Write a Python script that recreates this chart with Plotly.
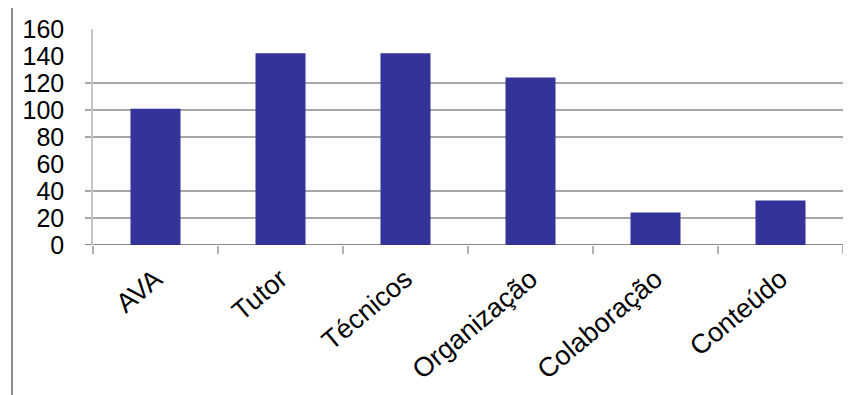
import plotly.graph_objects as go

categories = ["AVA", "Tutor", "Técnicos", "Organização", "Colaboração", "Conteúdo"]
values = [101, 142, 142, 124, 24, 33]
y_ticks = [0, 20, 40, 60, 80, 100, 120, 140, 160]
grid_values = [0, 20, 40, 80, 100, 120]

bar_color = "#333399"
font_family = "Liberation Sans, Arial, sans-serif"

fig = go.Figure(
    go.Bar(
        x=categories,
        y=values,
        marker=dict(color=bar_color, line=dict(width=0)),
    )
)

shapes = []
for g in grid_values:
    shapes.append(dict(
        type="line", xref="paper", yref="y",
        x0=-8 / 750, x1=1, y0=g, y1=g,
        line=dict(color="#888888" if g == 0 else "#8a8a8a", width=2 if g == 0 else 1.3),
        layer="below",
    ))
# outer frame lines
shapes.append(dict(type="line", xref="paper", yref="paper",
                   x0=-81 / 750, x1=-81 / 750, y0=238 / 216, y1=-160 / 216,
                   line=dict(color="#8c8c8c", width=2)))
shapes.append(dict(type="line", xref="paper", yref="paper",
                   x0=-81 / 750, x1=20 / 750 + 1, y0=238 / 216, y1=238 / 216,
                   line=dict(color="#d0d0d0", width=1.5)))

fig.update_layout(
    width=843, height=387,
    margin=dict(l=85, r=8, t=21, b=150),
    paper_bgcolor="white", plot_bgcolor="white",
    bargap=0.6,
    showlegend=False,
    shapes=shapes,
    font=dict(family=font_family, size=24, color="black"),
    xaxis=dict(
        automargin=False,
        showgrid=False,
        showline=False,
        ticks="outside", tickson="boundaries", ticklen=8,
        tickcolor="#b0b0b0", tickwidth=1.5,
        tickangle=-40,
        ticklabelstandoff=12,
        tickfont=dict(size=27),
    ),
    yaxis=dict(
        automargin=False,
        range=[0, 160],
        tickvals=y_ticks,
        showgrid=False,
        zeroline=False,
        showline=True, linecolor="#c4c4c4", linewidth=1.5,
        ticks="",
        ticklabelstandoff=22,
        tickfont=dict(size=25),
    ),
)

fig.write_html("out.html")
